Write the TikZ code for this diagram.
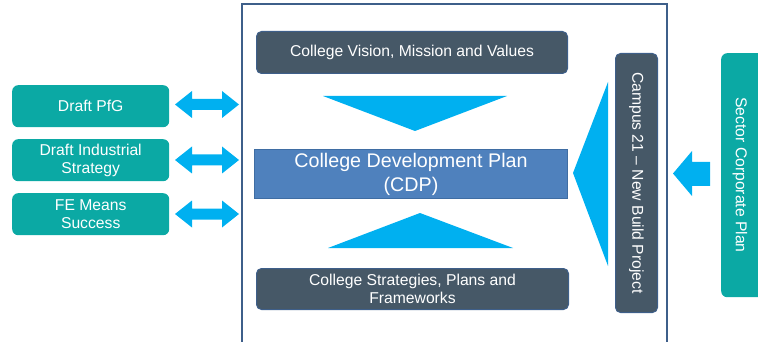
\documentclass[tikz,border=0pt]{standalone}
\usepackage{fontspec}
\setmainfont{Liberation Sans}
\definecolor{slate}{HTML}{465867}
\definecolor{frameblue}{HTML}{3E5F8A}
\definecolor{tealfill}{HTML}{0BA9A4}
\definecolor{cyanarrow}{HTML}{00B0F0}
\definecolor{cdpfill}{HTML}{4F81BD}
\definecolor{cdpborder}{HTML}{3F6DA3}
\tikzset{
  darkbox/.style={draw=frameblue, line width=1pt, fill=slate, rounded corners=5pt,
    text=white, align=center, inner sep=0pt, anchor=north west,
    font=\fontsize{15.7}{18.5}\selectfont},
  tealbox/.style={fill=tealfill, rounded corners=6pt, text=white, align=center,
    inner sep=0pt, anchor=north west, font=\fontsize{15.7}{18.5}\selectfont},
  cdpbox/.style={draw=cdpborder, line width=1pt, fill=cdpfill, text=white,
    align=center, inner sep=0pt, anchor=north west,
    font=\fontsize{19.7}{24}\selectfont},
  pointer/.style={fill=cyanarrow},
}
\begin{document}
\begin{tikzpicture}[x=1pt, y=-1pt]
  \useasboundingbox (0,0) rectangle (758,342);

  % outer frame around the college planning block
  \draw[frameblue, line width=1.5pt] (242,4) rectangle (667,370);

  % college planning boxes
  \node[darkbox, minimum width=311pt, minimum height=42pt] (vision) at (256,31)
    {College Vision, Mission and Values};
  \node[cdpbox, minimum width=313pt, minimum height=49pt] (cdp) at (254,149)
    {College Development Plan\\(CDP)};
  \node[darkbox, minimum width=312pt, minimum height=41pt] (strat) at (256,268)
    {College Strategies, Plans and\\Frameworks};
  \node[darkbox, minimum width=42pt, minimum height=259pt] (campus) at (615,53) {};
  \node[text=white, rotate=-90, font=\fontsize{15.7}{18.5}\selectfont] (campustext)
    at (campus.center) {Campus 21 -- New Build Project};

  % external documents
  \node[tealbox, minimum width=157pt, minimum height=42pt] (pfg) at (12,85) {Draft PfG};
  \node[tealbox, minimum width=157pt, minimum height=42pt] (ind) at (12,139)
    {Draft Industrial\\Strategy};
  \node[tealbox, minimum width=157pt, minimum height=42pt] (fe) at (12,193)
    {FE Means\\Success};
  \node[tealbox, minimum width=45pt, minimum height=244pt] (sector) at (721,53) {};
  \node[text=white, rotate=-90, font=\fontsize{15.7}{18.5}\selectfont] (sectortext)
    at (740,175) {Sector Corporate Plan};

  % wedges feeding the development plan
  \fill[pointer] (323,96) -- (507,96) -- (415,131) -- cycle;
  \fill[pointer] (328,248) -- (513,248) -- (420,213) -- cycle;
  \fill[pointer] (608,82) -- (608,266) -- (573,173) -- cycle;

  % block arrow from the sector plan
  \fill[pointer] (673,173.5) -- (692,151) -- (692,162) -- (710,162) -- (710,186)
    -- (692,186) -- (692,196) -- cycle;

  % two-way arrows between the external documents and the frame
  \foreach \cy in {104.5,160,214}{
    \fill[pointer] (175,\cy) -- (192,\cy-13.5) -- (192,\cy-5.5) -- (222,\cy-5.5)
      -- (222,\cy-13.5) -- (239,\cy) -- (222,\cy+13.5) -- (222,\cy+5.5)
      -- (192,\cy+5.5) -- (192,\cy+13.5) -- cycle;
  }
\end{tikzpicture}
\end{document}
